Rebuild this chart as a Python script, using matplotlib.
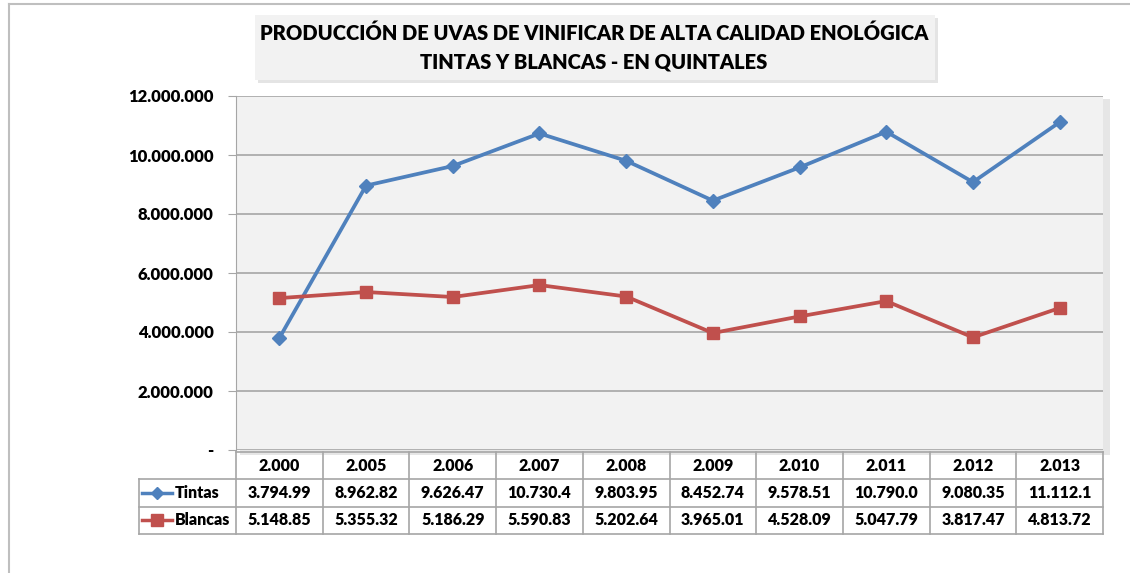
"""Line chart with data table: uvas de vinificar, tintas y blancas."""

import matplotlib.pyplot as plt
from matplotlib.patches import Rectangle
from matplotlib.lines import Line2D

plt.rcParams["font.family"] = ["Lato", "DejaVu Sans"]

years = ["2.000", "2.005", "2.006", "2.007", "2.008",
         "2.009", "2.010", "2.011", "2.012", "2.013"]
tintas = [3794990, 8962820, 9626470, 10730400, 9803950,
          8452740, 9578510, 10790000, 9080350, 11112100]
blancas = [5148850, 5355320, 5186290, 5590830, 5202640,
           3965010, 4528090, 5047790, 3817470, 4813720]
yticks = [0, 2000000, 4000000, 6000000, 8000000, 10000000, 12000000]

BLUE = "#4F81BD"
RED = "#C0504D"
GRID = "#A6A6A6"
W, H = 1130, 573
WEIGHT = "heavy"


def fx(px):
    return px / W


def fy(py):
    return 1 - py / H


def dots(v):
    return f"{v:,}".replace(",", ".")


def cell_text(v):
    # the table cells are too narrow, so the numbers get cut off
    return dots(v)[:8]


fig = plt.figure(figsize=(W / 100, H / 100), dpi=100)

# outer frame (only top and left edges are visible)
fig.add_artist(Line2D([fx(9), fx(9)], [fy(4), 0], color="#BFBFBF", lw=1.5))
fig.add_artist(Line2D([fx(9), 1], [fy(4), fy(4)], color="#BFBFBF", lw=1.5))

# title box with soft shadow
fig.add_artist(Rectangle((fx(258), fy(83)), fx(680), 65 / H,
                         facecolor="#E4E4E4", edgecolor="none", zorder=-2))
fig.add_artist(Rectangle((fx(255), fy(80)), fx(680), 65 / H,
                         facecolor="#F2F2F2", edgecolor="none", zorder=-1))
fig.text(fx(594), fy(33), "PRODUCCIÓN DE UVAS DE VINIFICAR DE ALTA CALIDAD ENOLÓGICA",
         ha="center", va="center", fontsize=14.5, fontweight=WEIGHT)
fig.text(fx(594), fy(62), "TINTAS Y BLANCAS - EN QUINTALES",
         ha="center", va="center", fontsize=14.5, fontweight=WEIGHT)

# plot area shadow
fig.add_artist(Rectangle((fx(240), fy(455)), fx(870), (455 - 99) / H,
                         facecolor="#E6E6E6", edgecolor="none", zorder=-2))

left, right, top, bottom = 236, 1103, 96, 450
ax = fig.add_axes([fx(left), fy(bottom), fx(right - left), (bottom - top) / H])
ax.set_facecolor("#F2F2F2")
x = list(range(len(years)))
ax.plot(x, tintas, color=BLUE, lw=2.7, marker="D", ms=7, zorder=3)
ax.plot(x, blancas, color=RED, lw=2.7, marker="s", ms=8, zorder=3)
ax.set_xlim(-0.5, len(years) - 0.5)
ax.set_ylim(0, 12000000)
ax.set_yticks(yticks)
ax.set_yticklabels(["-"] + [dots(v) for v in yticks[1:]],
                   fontsize=12, fontweight=WEIGHT)
ax.tick_params(axis="y", length=6, color=GRID, pad=10)
ax.set_xticks([])
ax.grid(axis="y", color=GRID, lw=1.2)
ax.set_axisbelow(True)
for s in ("top", "right", "bottom"):
    ax.spines[s].set_visible(False)
ax.spines["left"].set_color(GRID)

# data table underneath
t_top, t_bot = 452, 534
tab = fig.add_axes([fx(left), fy(t_bot), fx(right - left), (t_bot - t_top) / H])
tab.set_xlim(-0.5, len(years) - 0.5)
tab.set_ylim(3, 0)
tab.axis("off")
col_w = (right - left) / len(years)
lab_x = -0.5 - (left - 139) / col_w
lk = dict(color=GRID, lw=1.2, clip_on=False)
for i in range(len(years) + 1):
    tab.plot([i - 0.5, i - 0.5], [0, 3], **lk)
tab.plot([lab_x, lab_x], [1, 3], **lk)
tab.plot([-0.5, len(years) - 0.5], [0, 0], **lk)
for r in (1, 2, 3):
    tab.plot([lab_x, len(years) - 0.5], [r, r], **lk)

tk = dict(ha="center", va="center", fontsize=11.5, fontweight=WEIGHT)
for i, yr in enumerate(years):
    tab.text(i, 0.5, yr, **tk)
    tab.text(i, 1.5, cell_text(tintas[i]), **tk)
    tab.text(i, 2.5, cell_text(blancas[i]), **tk)

series = [("Tintas", BLUE, "D", 6), ("Blancas", RED, "s", 8)]
for r, (name, col, mk, ms) in enumerate(series, start=1):
    x0, x1 = lab_x + 0.04, lab_x + 0.38
    tab.plot([x0, x1], [r + 0.5, r + 0.5], color=col, lw=2.5, clip_on=False)
    tab.plot([(x0 + x1) / 2], [r + 0.5], color=col, marker=mk, ms=ms, clip_on=False)
    tab.text(x1 + 0.03, r + 0.5, name, ha="left", va="center",
             fontsize=11.5, fontweight=WEIGHT)

fig.savefig("out.png", dpi=100)
